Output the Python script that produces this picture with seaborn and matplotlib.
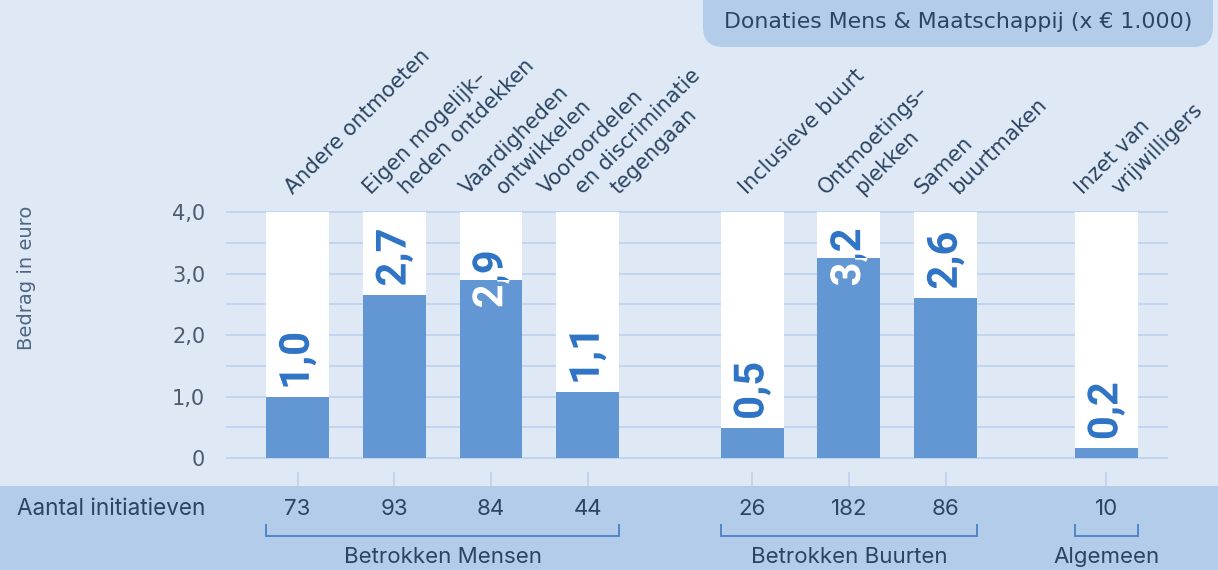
import matplotlib
matplotlib.use("Agg")
import matplotlib.pyplot as plt
import matplotlib.transforms as mtransforms
from matplotlib.patches import Rectangle, FancyBboxPatch, PathPatch
from matplotlib.textpath import TextPath
from matplotlib.font_manager import FontProperties
import seaborn as sns

# data
categories = [
    ["Andere ontmoeten"],
    ["Eigen mogelijk\u2013", "heden ontdekken"],
    ["Vaardigheden", "ontwikkelen"],
    ["Vooroordelen", "en discriminatie", "tegengaan"],
    ["Inclusieve buurt"],
    ["Ontmoetings\u2013", "plekken"],
    ["Samen", "buurtmaken"],
    ["Inzet van", "vrijwilligers"],
]
values = [1.0, 2.65, 2.9, 1.08, 0.49, 3.26, 2.6, 0.16]
value_labels = ["1,0", "2,7", "2,9", "1,1", "0,5", "3,2", "2,6", "0,2"]
counts = [73, 93, 84, 44, 26, 182, 86, 10]
groups = ["Betrokken Mensen", "Betrokken Buurten", "Algemeen"]
group_members = [[0, 1, 2, 3], [4, 5, 6], [7]]
y_ticks = [0, 1, 2, 3, 4]
y_ticklabels = ["0", "1,0", "2,0", "3,0", "4,0"]
y_max = 4.0

# layout
xpos = [0, 1, 2, 3, 4.7, 5.7, 6.7, 8.36]
bar_w = 0.65

bg = "#dfe9f6"
band = "#b3cce9"
bar_blue = "#6397d3"
label_blue = "#2f74c5"
navy = "#2b4462"
grid_c = "#bed3ee"

DPI = 100
fig = plt.figure(figsize=(12.18, 5.7), dpi=DPI, facecolor=bg)
W, H = 1218, 570
ax = fig.add_axes([226 / W, (H - 486) / H, (1168 - 226) / W, (486 - 210.2) / H])
ax.set_facecolor("none")

# white background columns + blue value bars
sns.barplot(x=xpos, y=[y_max] * len(values), native_scale=True, orient="x",
            color="white", saturation=1, width=bar_w, linewidth=0, ax=ax, zorder=2)
sns.barplot(x=xpos, y=values, native_scale=True, orient="x",
            color=bar_blue, saturation=1, width=bar_w, linewidth=0, ax=ax, zorder=3)

ax.set_xlim(-0.74, 9.0)
ax.set_ylim(-0.455, 4.03)
ax.set_yticks(y_ticks)
ax.set_yticklabels(y_ticklabels)
ax.set_yticks([0.5, 1.5, 2.5, 3.5], minor=True)
ax.set_xticks([])
ax.set_xlabel("")
ax.set_ylabel("")
ax.grid(axis="y", which="both", color=grid_c, linewidth=1.3, zorder=1)
ax.set_axisbelow(True)
ax.tick_params(axis="y", which="both", length=0, pad=15, labelsize=15, labelcolor="#4c5b6f")
for lab in ax.get_yticklabels():
    lab.set_family("DejaVu Sans")
for s in ax.spines.values():
    s.set_visible(False)

# small ticks under each bar
ax.vlines(xpos, -0.455, -0.225, color=grid_c, linewidth=1.3, zorder=1)

# value labels: blue where they sit on white, white where they sit on the bar
fp = FontProperties(family="Roboto", weight="bold")
scale = DPI / 72
for x, v, txt in zip(xpos, values, value_labels):
    tp = TextPath((0, 0), txt, size=30, prop=fp)
    bb = tp.get_extents()
    half_len = bb.width / 2 * scale
    xd, yd = ax.transData.transform((x, v))
    if v + 0.15 + 1.0 > 3.85:
        cy = yd
    else:
        cy = yd + 10 + half_len
    tr = (mtransforms.Affine2D()
          .translate(-(bb.x0 + bb.x1) / 2, -(bb.y0 + bb.y1) / 2)
          .rotate_deg(90).scale(scale).translate(xd, cy))
    white_part = Rectangle((x - bar_w / 2, v), bar_w, y_max - v, transform=ax.transData)
    blue_part = Rectangle((x - bar_w / 2, 0), bar_w, v, transform=ax.transData)
    for col, clip in [(label_blue, white_part), ("white", blue_part)]:
        pp = PathPatch(tp, transform=tr, facecolor=col, edgecolor="none", zorder=5)
        ax.add_artist(pp)
        pp.set_clip_path(clip)  # after add_artist, otherwise it is reset to the axes box

# rotated category labels above the columns
px = 72 / DPI
for x, lines in zip(xpos, categories):
    n = len(lines)
    for i, line in enumerate(lines):
        dx = (-5 + (i - (n - 1) / 2) * 36) * px
        ax.annotate(line, xy=(x, y_max), xytext=(dx, 17 * px), textcoords="offset points",
                    rotation=45, rotation_mode="anchor", ha="left", va="baseline",
                    fontsize=15, color=navy, family="DejaVu Sans", annotation_clip=False)

# bottom band
fig.add_artist(Rectangle((0, 0), 1, (H - 486) / H, transform=fig.transFigure,
                         facecolor=band, edgecolor="none", zorder=-1))
trans = mtransforms.blended_transform_factory(ax.transData, fig.transFigure)
y_cnt = (H - 509) / H
fig.text(17 / W, y_cnt, "Aantal initiatieven", ha="left", va="center",
         fontsize=16.2, color=navy, family="Inter")
for x, c in zip(xpos, counts):
    ax.text(x, y_cnt, str(c), transform=trans, ha="center", va="center",
            fontsize=16, color=navy, family="Inter", clip_on=False)

y_top, y_bot = (H - 525) / H, (H - 536) / H
for g, members in zip(groups, group_members):
    x0 = xpos[members[0]] - bar_w / 2
    x1 = xpos[members[-1]] + bar_w / 2
    ax.plot([x0, x0, x1, x1], [y_top, y_bot, y_bot, y_top], transform=trans,
            color="#5087c8", linewidth=1.4, clip_on=False, solid_joinstyle="miter")
    ax.text((x0 + x1) / 2, (H - 557) / H, g, transform=trans, ha="center", va="center",
            fontsize=16, color=navy, family="Inter", clip_on=False)

# y axis title
fig.text(27 / W, (H - 278) / H, "Bedrag in euro", rotation=90, ha="center", va="center",
         fontsize=14, color="#4f6683", family="DejaVu Sans")

# title pill top right
fig.add_artist(FancyBboxPatch((703, H - 47), 510, 70, boxstyle="round,pad=0,rounding_size=20",
                              transform=None, facecolor=band, edgecolor="none", zorder=-1))
fig.text(958 / W, (H - 22) / H, "Donaties Mens & Maatschappij (x \u20ac 1.000)",
         ha="center", va="center", fontsize=15.8, color=navy, family="DejaVu Sans")

fig.savefig("out.png", dpi=DPI, facecolor=bg)
